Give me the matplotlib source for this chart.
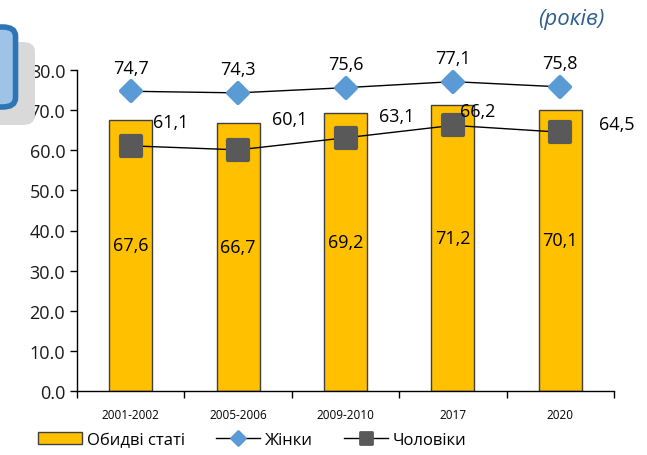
import matplotlib.pyplot as plt
from matplotlib.patches import FancyBboxPatch, Patch
from matplotlib.lines import Line2D
from matplotlib.markers import MarkerStyle

plt.rcParams['font.family'] = ['Open Sans', 'DejaVu Sans']

years = ['2001-2002', '2005-2006', '2009-2010', '2017', '2020']
both = [67.6, 66.7, 69.2, 71.2, 70.1]
women = [74.7, 74.3, 75.6, 77.1, 75.8]
men = [61.1, 60.1, 63.1, 66.2, 64.5]

legend_names = ['Обидві статі', 'Жінки', 'Чоловіки']
units = '(років)'


def fmt(v):
    return f'{v:.1f}'.replace('.', ',')


fig = plt.figure(figsize=(6.47, 4.56), dpi=100)

# decorative boxes at the left edge
gray = FancyBboxPatch((-0.05, 1 - 126 / 456), 0.104, 83 / 456,
                      boxstyle='round,pad=0,rounding_size=0.02',
                      transform=fig.transFigure, facecolor='#d9d9d9',
                      edgecolor='none', zorder=0)
blue = FancyBboxPatch((-0.05, 1 - 108 / 456), 0.074, 80 / 456,
                      boxstyle='round,pad=0,rounding_size=0.02',
                      transform=fig.transFigure, facecolor='#9dc3e6',
                      edgecolor='#2e75b6', linewidth=4, zorder=1)
fig.patches.extend([gray, blue])

ax = fig.add_axes([77 / 647, 1 - 392 / 456, 537 / 647, 321 / 456])
x = list(range(len(years)))

diamond = MarkerStyle('D', joinstyle='round')
square = MarkerStyle('s', joinstyle='round')

ax.bar(x, both, width=0.4, color='#ffc000', edgecolor='#404040',
       linewidth=1, zorder=2)
ax.plot(x, women, color='black', linewidth=1, marker=diamond, markersize=10,
        markerfacecolor='#5b9bd5', markeredgecolor='#5b9bd5',
        markeredgewidth=3, zorder=3, clip_on=False)
ax.plot(x, men, color='black', linewidth=1, marker=square, markersize=14,
        markerfacecolor='#595959', markeredgecolor='#595959',
        markeredgewidth=3, zorder=3, clip_on=False)

for i, v in enumerate(both):
    ax.text(i, v / 2 + 2.5, fmt(v), ha='center', va='center', fontsize=13,
            color='black', zorder=4)

for i, v in enumerate(women):
    ax.annotate(fmt(v), (i, v), xytext=(0, 17), textcoords='offset points',
                ha='center', va='center', fontsize=13, zorder=4)

men_offsets = [(29, 17), (37, 22), (37, 16), (18, 10), (41, 6)]
for i, v in enumerate(men):
    ax.annotate(fmt(v), (i, v), xytext=men_offsets[i],
                textcoords='offset points', ha='center', va='center',
                fontsize=13, zorder=4)

ax.set_xlim(-0.5, len(years) - 0.5)
ax.set_ylim(0, 80)
ax.set_yticks(range(0, 81, 10))
ax.set_yticklabels([f'{t:.1f}' for t in range(0, 81, 10)], fontsize=13,
                   color='#1a1a1a')
ax.set_xticks([i - 0.5 for i in range(len(years) + 1)], minor=False)
ax.set_xticklabels([])
ax.set_xticks(x, minor=True)
ax.set_xticklabels(years, minor=True, fontsize=8.5)
ax.tick_params(axis='x', which='minor', length=0, pad=12)
ax.tick_params(axis='x', which='major', length=5, width=1)
ax.tick_params(axis='y', length=5, width=1)

for side in ['top', 'right']:
    ax.spines[side].set_visible(False)
for side in ['left', 'bottom']:
    ax.spines[side].set_linewidth(1)

fig.text(571 / 647, 1 - 19 / 456, units, ha='center', va='center',
         fontsize=16, style='italic', color='#2e5f8f')

handles = [
    Patch(facecolor='#ffc000', edgecolor='#404040', linewidth=1),
    Line2D([], [], color='black', linewidth=1, marker=diamond, markersize=7,
           markerfacecolor='#5b9bd5', markeredgecolor='#5b9bd5',
           markeredgewidth=2),
    Line2D([], [], color='black', linewidth=1, marker=square, markersize=9,
           markerfacecolor='#595959', markeredgecolor='#595959',
           markeredgewidth=2),
]
fig.legend(handles, legend_names, loc='center', ncol=3,
           bbox_to_anchor=(0.39, 1 - 441 / 456), frameon=False, fontsize=12,
           handlelength=2.6, handletextpad=0.3, columnspacing=1.9)

plt.savefig('out.png', dpi=100)
